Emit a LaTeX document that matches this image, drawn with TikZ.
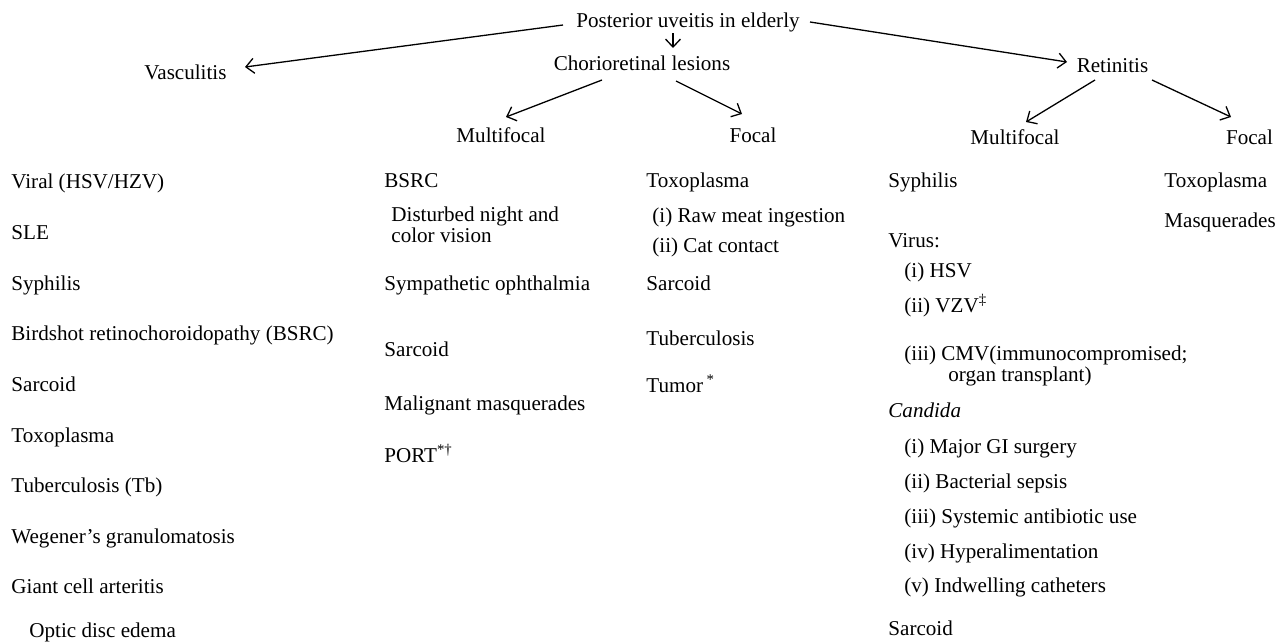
\documentclass[tikz,border=0pt]{standalone}
\usepackage{fontspec}
\setmainfont{Liberation Serif}
\usetikzlibrary{arrows.meta,calc}

\tikzstyle{cat} = [anchor=base, inner sep=0pt]
\tikzstyle{entry} = [anchor=base west, inner sep=0pt, align=left]
\tikzstyle{arr} = [-{Straight Barb[length=4pt,width=7.5pt]}, line width=0.65pt]

\begin{document}
\begin{tikzpicture}[x=0.5pt, y=-0.5pt, font=\fontsize{10.55}{10.5}\selectfont]
\useasboundingbox (0,0) rectangle (1281,643);
%root
\node[cat] (root) at (688,27) {Posterior uveitis in elderly};
%begin level1
\node[cat] (vasc) at (185.5,79) {Vasculitis};
\node[cat] (chor) at (642,70) {Chorioretinal lesions};
\node[cat] (ret) at (1112.5,72) {Retinitis};
\draw[arr] ($(root.base)+(-125,-2)$) -- ($(vasc.base)+(59.5,-12)$);
\draw[arr] ($(root.base)+(-15,6)$) -- ($(chor.base)+(31,-22)$);
\draw[arr] ($(root.base)+(122,-5)$) -- ($(ret.base)+(-45.5,-10)$);
%end level1
%begin level2
\node[cat] (chormf) at (501,142) {Multifocal};
\node[cat] (chorfo) at (753,142) {Focal};
\node[cat] (retmf) at (1015,144) {Multifocal};
\node[cat] (retfo) at (1249.5,144) {Focal};
\draw[arr] ($(chor.base)+(-40,10)$) -- ($(chormf.base)+(5,-25)$);
\draw[arr] ($(chor.base)+(34,11)$) -- ($(chorfo.base)+(-11,-28)$);
\draw[arr] ($(ret.base)+(-17.5,8)$) -- ($(retmf.base)+(11,-22)$);
\draw[arr] ($(ret.base)+(39.5,8)$) -- ($(retfo.base)+(-18.5,-27)$);
%end level2
%begin list vasculitis
\node[entry] (vas1) at (11,188) {Viral (HSV/HZV)};
\node[entry] (vas2) at (11,239) {SLE};
\node[entry] (vas3) at (11,290) {Syphilis};
\node[entry] (vas4) at (11,340) {Birdshot retinochoroidopathy (BSRC)};
\node[entry] (vas5) at (11,391) {Sarcoid};
\node[entry] (vas6) at (11,442) {Toxoplasma};
\node[entry] (vas7) at (11,492) {Tuberculosis (Tb)};
\node[entry] (vas8) at (11,543) {Wegener’s granulomatosis};
\node[entry] (vas9) at (11,593) {Giant cell arteritis};
\node[entry] (vas9a) at (29,637) {Optic disc edema};
%end list vasculitis
%begin list chorioretinal-multifocal
\node[entry] (cmf1) at (384,187) {BSRC};
\node[entry] (cmf1a) at (391,242) {Disturbed night and\\color vision};
\node[entry] (cmf2) at (384,290) {Sympathetic ophthalmia};
\node[entry] (cmf3) at (384,356) {Sarcoid};
\node[entry] (cmf4) at (384,410) {Malignant masquerades};
\node[entry] (cmf5) at (384,462) {PORT\textsuperscript{*\textdagger}};
%end list chorioretinal-multifocal
%begin list chorioretinal-focal
\node[entry] (cfo1) at (646,187) {Toxoplasma};
\node[entry] (cfo1a) at (652,222) {(i) Raw meat ingestion};
\node[entry] (cfo1b) at (652,252) {(ii) Cat contact};
\node[entry] (cfo2) at (646,290) {Sarcoid};
\node[entry] (cfo3) at (646,345) {Tuberculosis};
\node[entry] (cfo4) at (646,392) {Tumor\,\textsuperscript{*}};
%end list chorioretinal-focal
%begin list retinitis-multifocal
\node[entry] (rmf1) at (888,187) {Syphilis};
\node[entry] (rmf2) at (888,247) {Virus:};
\node[entry] (rmf2a) at (904,277) {(i) HSV};
\node[entry] (rmf2b) at (904,312) {(ii) VZV\textsuperscript{\textdaggerdbl}};
\node[entry] (rmf2c) at (904,381) {(iii) CMV(immunocompromised;\\\hspace*{22pt}organ transplant)};
\node[entry] (rmf3) at (888,417) {\textit{Candida}};
\node[entry] (rmf3a) at (904,453) {(i) Major GI surgery};
\node[entry] (rmf3b) at (904,488) {(ii) Bacterial sepsis};
\node[entry] (rmf3c) at (904,523) {(iii) Systemic antibiotic use};
\node[entry] (rmf3d) at (904,558) {(iv) Hyperalimentation};
\node[entry] (rmf3e) at (904,592) {(v) Indwelling catheters};
\node[entry] (rmf4) at (888,635) {Sarcoid};
%end list retinitis-multifocal
%begin list retinitis-focal
\node[entry] (rfo1) at (1164,187) {Toxoplasma};
\node[entry] (rfo2) at (1164,227) {Masquerades};
%end list retinitis-focal
\end{tikzpicture}
\end{document}
